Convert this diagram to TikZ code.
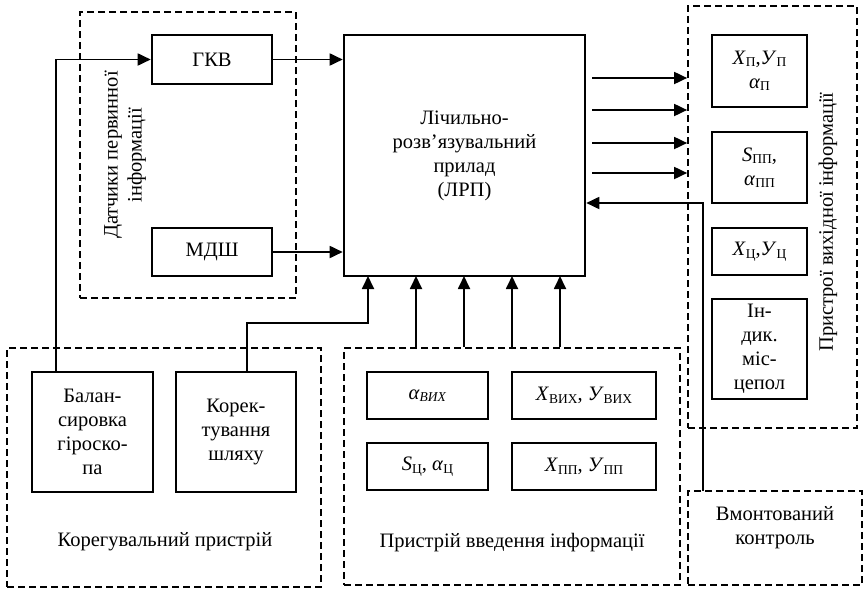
\documentclass[tikz,border=0pt]{standalone}
\usepackage{fontspec}
\setmainfont{Liberation Serif}
\usetikzlibrary{arrows.meta}
\newcommand\fs{\fontsize{20.5}{24}\selectfont}
\newcommand\sbz[1]{\raisebox{-0.12em}{\fontsize{13.5}{13.5}\selectfont #1}}
\tikzset{
  blk/.style={draw, line width=2.6pt, align=center, inner sep=0pt, font=\fs},
  grp/.style={draw, line width=1.7pt, dash pattern=on 7pt off 4pt, inner sep=0pt},
  conn/.style={line width=1.8pt},
  arr/.style={conn, -{Triangle[length=13pt,width=12pt]}},
  lbl/.style={align=center, font=\fs, inner sep=0pt}
}
\begin{document}
\begin{tikzpicture}[x=1pt,y=-1pt]
\useasboundingbox (0,0) rectangle (864,589);
% groups
\node[grp, minimum width=216pt, minimum height=286pt] (sgrp) at (188,155) {};
\node[grp, minimum width=169pt, minimum height=422pt] (ogrp) at (772.5,217) {};
\node[grp, minimum width=314pt, minimum height=239pt] (kgrp) at (164,467.5) {};
\node[grp, minimum width=336pt, minimum height=237pt] (igrp) at (512,466.5) {};
\node[grp, minimum width=174pt, minimum height=94pt] (vgrp) at (775,538) {};
% group labels
\node[lbl, rotate=90] (slbl) at (125,155) {Датчики первинної\\інформації};
\node[lbl, rotate=90] (olbl) at (828,222) {Пристрої вихідної інформації};
\node[lbl] (klbl) at (165,542) {Корегувальний пристрій};
\node[lbl] (ilbl) at (512,543) {Пристрій введення інформації};
\node[lbl] (vlbl) at (775,528) {Вмонтований\\контроль};
% blocks
\node[blk, minimum width=120pt, minimum height=49pt] (gkv) at (212,59.5) {ГКВ};
\node[blk, minimum width=120pt, minimum height=48pt] (mdsh) at (212,252) {МДШ};
\node[blk, minimum width=241pt, minimum height=241pt] (lrp) at (464.5,155.5) {Лічильно-\\розв’язувальний\\прилад\\(ЛРП)};
\node[blk, minimum width=95pt, minimum height=72pt] (o1) at (759.5,71) {\textit{X}\sbz{П},\textit{У}\sbz{П}\\\textit{α}\sbz{П}};
\node[blk, minimum width=95pt, minimum height=71pt] (o2) at (759.5,167.5) {\textit{S}\sbz{ПП},\\\textit{α}\sbz{ПП}};
\node[blk, minimum width=95pt, minimum height=47pt] (o3) at (759.5,251.5) {\textit{X}\sbz{Ц},\textit{У}\sbz{Ц}};
\node[blk, minimum width=95pt, minimum height=100pt] (o4) at (759.5,349) {Ін-\\дик.\\міс-\\цепол};
\node[blk, minimum width=121pt, minimum height=47pt] (i1) at (427.5,395.5) {\textit{α}\sbz{\textit{ВИХ}}};
\node[blk, minimum width=144pt, minimum height=47pt] (i2) at (584,395.5) {\textit{X}\sbz{ВИХ}, \textit{У}\sbz{ВИХ}};
\node[blk, minimum width=121pt, minimum height=47pt] (i3) at (427.5,466.5) {\textit{S}\sbz{Ц}, \textit{α}\sbz{Ц}};
\node[blk, minimum width=144pt, minimum height=47pt] (i4) at (584,466.5) {\textit{X}\sbz{ПП}, \textit{У}\sbz{ПП}};
\node[blk, minimum width=121pt, minimum height=120pt] (bal) at (92.5,432) {Балан-\\сировка\\гіроско-\\па};
\node[blk, minimum width=120pt, minimum height=120pt] (kor) at (236,432) {Корек-\\тування\\шляху};
% coordinates
\coordinate (bt) at (56,372);
\coordinate (kt) at (247,372);
\coordinate (a1) at (368,276);
\coordinate (a2) at (416,276);
\coordinate (a3) at (464,276);
\coordinate (a4) at (512,276);
\coordinate (a5) at (560,276);
\coordinate (r1) at (592,78);
\coordinate (r2) at (592,110);
\coordinate (r3) at (592,143);
\coordinate (r4) at (592,173);
\coordinate (vt) at (703,491);
% connectors
\draw[arr] (gkv.east) -- (gkv.east -| lrp.west);
\draw[arr] (mdsh.east) -- (mdsh.east -| lrp.west);
\draw[arr] (bt) |- (gkv.west);
\draw[arr] (kt) |- (368,323) -- (a1);
\draw[arr] (a2 |- igrp.north) -- (a2);
\draw[arr] (a3 |- igrp.north) -- (a3);
\draw[arr] (a4 |- igrp.north) -- (a4);
\draw[arr] (a5 |- igrp.north) -- (a5);
\draw[arr] (r1) -- (r1 -| ogrp.west);
\draw[arr] (r2) -- (r2 -| ogrp.west);
\draw[arr] (r3) -- (r3 -| ogrp.west);
\draw[arr] (r4) -- (r4 -| ogrp.west);
\draw[arr] (vt) |- (lrp.east |- 0,203);
\end{tikzpicture}
\end{document}
